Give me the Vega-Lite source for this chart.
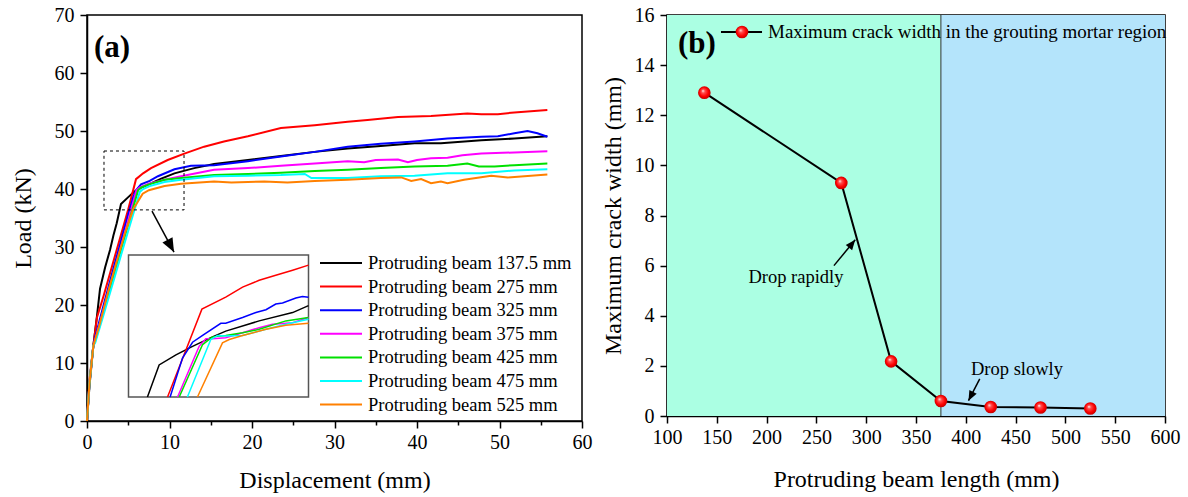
{
  "$schema": "https://vega.github.io/schema/vega-lite/v6.json",
  "background": "white",
  "padding": {"left": 10, "top": 4, "right": 4, "bottom": 5},
  "spacing": 7,
  "config": {
    "font": "Liberation Serif",
    "view": {"stroke": "black", "strokeWidth": 1.5},
    "axis": {"labelFont": "Liberation Serif", "labelFontSize": 20, "titleFont": "Liberation Serif", "titleFontSize": 24, "titleFontWeight": "normal", "labelColor": "black", "titleColor": "black", "tickColor": "black", "domainColor": "black", "grid": false, "tickWidth": 1.5, "domainWidth": 1.5, "labelFlush": false, "labelOverlap": false},
    "legend": {"labelFont": "Liberation Serif", "labelColor": "black"},
    "text": {"font": "Liberation Serif"}
  },
  "datasets": {
    "curves": [
      {"beam":137.5,"disp":0,"load":0},{"beam":137.5,"disp":0.3,"load":6},{"beam":137.5,"disp":0.77,"load":13},{"beam":137.5,"disp":1.2,"load":18},{"beam":137.5,"disp":1.58,"load":22.8},{"beam":137.5,"disp":2.2,"load":26.5},{"beam":137.5,"disp":2.79,"load":29.5},{"beam":137.5,"disp":3.2,"load":32},{"beam":137.5,"disp":3.6,"load":34.1},{"beam":137.5,"disp":4.12,"load":37.4},{"beam":137.5,"disp":5.0,"load":38.6},{"beam":137.5,"disp":5.7,"load":39.5},{"beam":137.5,"disp":6.5,"load":40.2},{"beam":137.5,"disp":7.35,"load":40.7},{"beam":137.5,"disp":9.0,"load":41.8},{"beam":137.5,"disp":10.6,"load":42.7},{"beam":137.5,"disp":13.0,"load":43.6},{"beam":137.5,"disp":15.4,"load":44.3},{"beam":137.5,"disp":19.5,"load":45.0},{"beam":137.5,"disp":23.5,"load":45.7},{"beam":137.5,"disp":27.6,"load":46.4},{"beam":137.5,"disp":31.6,"load":47.0},{"beam":137.5,"disp":35.6,"load":47.4},{"beam":137.5,"disp":39.7,"load":47.9},{"beam":137.5,"disp":42.9,"load":47.9},{"beam":137.5,"disp":47.8,"load":48.4},{"beam":137.5,"disp":51.8,"load":48.7},{"beam":137.5,"disp":55.8,"load":49.1},
      {"beam":275,"disp":0,"load":0},{"beam":275,"disp":0.3,"load":7},{"beam":275,"disp":0.77,"load":13},{"beam":275,"disp":1.2,"load":17.8},{"beam":275,"disp":2.0,"load":21.5},{"beam":275,"disp":3.0,"load":26.5},{"beam":275,"disp":4.0,"load":31.5},{"beam":275,"disp":5.0,"load":36.5},{"beam":275,"disp":5.94,"load":41.7},{"beam":275,"disp":6.8,"load":42.7},{"beam":275,"disp":7.76,"load":43.6},{"beam":275,"disp":9.78,"load":45.0},{"beam":275,"disp":11.8,"load":46.1},{"beam":275,"disp":14.2,"load":47.3},{"beam":275,"disp":16.6,"load":48.2},{"beam":275,"disp":19.5,"load":49.1},{"beam":275,"disp":23.5,"load":50.5},{"beam":275,"disp":27.6,"load":51.0},{"beam":275,"disp":31.6,"load":51.6},{"beam":275,"disp":34.0,"load":51.9},{"beam":275,"disp":37.7,"load":52.4},{"beam":275,"disp":41.7,"load":52.6},{"beam":275,"disp":46.1,"load":53.0},{"beam":275,"disp":47.8,"load":52.9},{"beam":275,"disp":49.8,"load":52.9},{"beam":275,"disp":51.8,"load":53.2},{"beam":275,"disp":55.8,"load":53.6},
      {"beam":325,"disp":0,"load":0},{"beam":325,"disp":0.3,"load":6.5},{"beam":325,"disp":0.77,"load":13},{"beam":325,"disp":1.0,"load":14.5},{"beam":325,"disp":2.0,"load":19.9},{"beam":325,"disp":3.0,"load":25.2},{"beam":325,"disp":4.0,"load":30.4},{"beam":325,"disp":5.0,"load":35.7},{"beam":325,"disp":5.6,"load":38.6},{"beam":325,"disp":5.94,"load":39.8},{"beam":325,"disp":6.55,"load":40.8},{"beam":325,"disp":7.6,"load":41.4},{"beam":325,"disp":8.6,"load":42.2},{"beam":325,"disp":10.6,"load":43.4},{"beam":325,"disp":12.6,"load":44.0},{"beam":325,"disp":15.4,"load":44.1},{"beam":325,"disp":19.5,"load":44.8},{"beam":325,"disp":23.5,"load":45.6},{"beam":325,"disp":27.6,"load":46.4},{"beam":325,"disp":31.6,"load":47.3},{"beam":325,"disp":35.6,"load":47.8},{"beam":325,"disp":39.7,"load":48.2},{"beam":325,"disp":43.7,"load":48.7},{"beam":325,"disp":47.8,"load":49.0},{"beam":325,"disp":49.8,"load":49.1},{"beam":325,"disp":51.8,"load":49.6},{"beam":325,"disp":53.4,"load":50.0},{"beam":325,"disp":54.6,"load":49.6},{"beam":325,"disp":55.8,"load":49.0},
      {"beam":375,"disp":0,"load":0},{"beam":375,"disp":0.3,"load":6.5},{"beam":375,"disp":0.77,"load":13},{"beam":375,"disp":1.0,"load":14},{"beam":375,"disp":2.0,"load":19.1},{"beam":375,"disp":3.0,"load":24.3},{"beam":375,"disp":4.0,"load":29.4},{"beam":375,"disp":5.0,"load":34.6},{"beam":375,"disp":6.0,"load":39.8},{"beam":375,"disp":6.4,"load":40.3},{"beam":375,"disp":7.5,"load":40.9},{"beam":375,"disp":9.4,"load":41.6},{"beam":375,"disp":11.4,"load":42.2},{"beam":375,"disp":15.4,"load":43.3},{"beam":375,"disp":19.5,"load":43.6},{"beam":375,"disp":23.5,"load":44.0},{"beam":375,"disp":27.6,"load":44.4},{"beam":375,"disp":31.6,"load":44.8},{"beam":375,"disp":33.6,"load":44.6},{"beam":375,"disp":35.0,"load":45.0},{"beam":375,"disp":37.7,"load":45.1},{"beam":375,"disp":38.9,"load":44.6},{"beam":375,"disp":40.0,"load":45.0},{"beam":375,"disp":41.7,"load":45.3},{"beam":375,"disp":43.7,"load":45.4},{"beam":375,"disp":45.5,"load":45.8},{"beam":375,"disp":47.8,"load":46.1},{"beam":375,"disp":51.8,"load":46.3},{"beam":375,"disp":55.8,"load":46.5},
      {"beam":425,"disp":0,"load":0},{"beam":425,"disp":0.3,"load":6.5},{"beam":425,"disp":0.77,"load":13},{"beam":425,"disp":1.0,"load":13.8},{"beam":425,"disp":2.0,"load":18.8},{"beam":425,"disp":3.0,"load":23.8},{"beam":425,"disp":4.0,"load":28.9},{"beam":425,"disp":5.0,"load":33.9},{"beam":425,"disp":6.2,"load":39.8},{"beam":425,"disp":6.6,"load":40.3},{"beam":425,"disp":7.5,"load":40.8},{"beam":425,"disp":9.4,"load":41.6},{"beam":425,"disp":11.4,"load":41.9},{"beam":425,"disp":15.4,"load":42.4},{"beam":425,"disp":19.5,"load":42.6},{"beam":425,"disp":23.5,"load":42.8},{"beam":425,"disp":27.6,"load":43.1},{"beam":425,"disp":31.6,"load":43.3},{"beam":425,"disp":35.6,"load":43.6},{"beam":425,"disp":39.7,"load":43.9},{"beam":425,"disp":43.7,"load":44.0},{"beam":425,"disp":46.1,"load":44.4},{"beam":425,"disp":47.5,"load":43.9},{"beam":425,"disp":49.4,"load":43.9},{"beam":425,"disp":51.8,"load":44.1},{"beam":425,"disp":55.8,"load":44.4},
      {"beam":475,"disp":0,"load":0},{"beam":475,"disp":0.3,"load":6.5},{"beam":475,"disp":0.77,"load":13},{"beam":475,"disp":1.0,"load":13.5},{"beam":475,"disp":2.0,"load":18.3},{"beam":475,"disp":3.0,"load":23.1},{"beam":475,"disp":4.0,"load":28.0},{"beam":475,"disp":5.0,"load":32.8},{"beam":475,"disp":6.4,"load":39.5},{"beam":475,"disp":6.8,"load":40.0},{"beam":475,"disp":7.6,"load":40.5},{"beam":475,"disp":9.4,"load":41.2},{"beam":475,"disp":11.4,"load":41.6},{"beam":475,"disp":15.4,"load":42.2},{"beam":475,"disp":19.5,"load":42.3},{"beam":475,"disp":23.5,"load":42.4},{"beam":475,"disp":26.4,"load":42.6},{"beam":475,"disp":27.2,"load":41.9},{"beam":475,"disp":31.6,"load":41.9},{"beam":475,"disp":35.6,"load":42.2},{"beam":475,"disp":39.7,"load":42.3},{"beam":475,"disp":43.7,"load":42.7},{"beam":475,"disp":47.8,"load":42.7},{"beam":475,"disp":51.8,"load":43.2},{"beam":475,"disp":55.8,"load":43.4},
      {"beam":525,"disp":0,"load":0},{"beam":525,"disp":0.3,"load":6.5},{"beam":525,"disp":0.77,"load":13},{"beam":525,"disp":1.5,"load":16.5},{"beam":525,"disp":2.6,"load":22.5},{"beam":525,"disp":3.6,"load":27.5},{"beam":525,"disp":4.6,"load":32.4},{"beam":525,"disp":5.6,"load":36.5},{"beam":525,"disp":6.75,"load":39.2},{"beam":525,"disp":7.5,"load":39.8},{"beam":525,"disp":9.4,"load":40.5},{"beam":525,"disp":11.4,"load":40.9},{"beam":525,"disp":15.4,"load":41.3},{"beam":525,"disp":17.5,"load":41.1},{"beam":525,"disp":21.5,"load":41.3},{"beam":525,"disp":24.3,"load":41.1},{"beam":525,"disp":27.6,"load":41.4},{"beam":525,"disp":31.6,"load":41.6},{"beam":525,"disp":35.6,"load":41.9},{"beam":525,"disp":38.1,"load":42.0},{"beam":525,"disp":39.3,"load":41.4},{"beam":525,"disp":40.5,"load":41.7},{"beam":525,"disp":41.7,"load":41.0},{"beam":525,"disp":42.9,"load":41.3},{"beam":525,"disp":43.7,"load":41.0},{"beam":525,"disp":45.7,"load":41.6},{"beam":525,"disp":49.0,"load":42.3},{"beam":525,"disp":51.0,"load":42.0},{"beam":525,"disp":55.8,"load":42.5}
    ],
    "inset": [
      {"beam":137.5,"disp":3.61,"load":34.9},{"beam":137.5,"disp":4.11,"load":37.41},{"beam":137.5,"disp":4.83,"load":38.2},{"beam":137.5,"disp":5.54,"load":38.86},{"beam":137.5,"disp":6.39,"load":39.6},{"beam":137.5,"disp":6.96,"load":40.05},{"beam":137.5,"disp":8.39,"load":40.85},{"beam":137.5,"disp":9.82,"load":41.5},{"beam":137.5,"disp":10.5,"load":42.04},
      {"beam":275,"disp":4.47,"load":34.9},{"beam":275,"disp":5.94,"load":41.77},{"beam":275,"disp":6.96,"load":42.7},{"beam":275,"disp":7.68,"load":43.49},{"beam":275,"disp":8.39,"load":44.02},{"beam":275,"disp":9.1,"load":44.41},{"beam":275,"disp":9.82,"load":44.81},{"beam":275,"disp":10.5,"load":45.21},
      {"beam":325,"disp":4.58,"load":34.9},{"beam":325,"disp":5.11,"load":37.94},{"beam":325,"disp":5.54,"load":39.18},{"beam":325,"disp":5.97,"load":39.71},{"beam":325,"disp":6.75,"load":40.66},{"beam":325,"disp":6.96,"load":40.66},{"beam":325,"disp":7.68,"load":41.11},{"beam":325,"disp":8.25,"load":41.5},{"beam":325,"disp":8.68,"load":41.72},{"beam":325,"disp":9.1,"load":42.17},{"beam":325,"disp":9.39,"load":42.25},{"beam":325,"disp":9.96,"load":42.64},{"beam":325,"disp":10.24,"load":42.75},{"beam":325,"disp":10.5,"load":42.7},
      {"beam":375,"disp":4.9,"load":34.9},{"beam":375,"disp":5.82,"load":38.86},{"beam":375,"disp":6.11,"load":39.45},{"beam":375,"disp":6.39,"load":39.45},{"beam":375,"disp":6.96,"load":39.53},{"beam":375,"disp":7.68,"load":39.92},{"beam":375,"disp":8.39,"load":40.32},{"beam":375,"disp":8.96,"load":40.58},{"beam":375,"disp":9.82,"load":40.71},{"beam":375,"disp":10.5,"load":41.11},
      {"beam":425,"disp":4.97,"load":34.9},{"beam":425,"disp":5.97,"load":39.0},{"beam":425,"disp":6.39,"load":39.6},{"beam":425,"disp":6.96,"load":39.71},{"beam":425,"disp":7.68,"load":39.92},{"beam":425,"disp":8.39,"load":40.19},{"beam":425,"disp":9.53,"load":40.85},{"beam":425,"disp":10.5,"load":41.11},
      {"beam":475,"disp":5.32,"load":34.9},{"beam":475,"disp":6.32,"load":39.39},{"beam":475,"disp":6.61,"load":39.71},{"beam":475,"disp":6.96,"load":39.66},{"beam":475,"disp":7.68,"load":39.71},{"beam":475,"disp":8.68,"load":40.19},{"beam":475,"disp":9.53,"load":40.58},{"beam":475,"disp":10.5,"load":40.98},
      {"beam":525,"disp":5.75,"load":34.9},{"beam":525,"disp":6.82,"load":39.13},{"beam":525,"disp":7.11,"load":39.39},{"beam":525,"disp":7.68,"load":39.71},{"beam":525,"disp":8.68,"load":40.19},{"beam":525,"disp":9.53,"load":40.5},{"beam":525,"disp":10.5,"load":40.66}
    ],
    "crack": [
      {"len":137.5,"width":12.9},{"len":275,"width":9.3},{"len":325,"width":2.18},{"len":375,"width":0.6},{"len":425,"width":0.36},{"len":475,"width":0.34},{"len":525,"width":0.3}
    ]
  },
  "hconcat": [
    {
      "width": 495,
      "height": 406,
      "layer": [
        {
          "layer": [
            {
              "data": {"name": "curves"},
              "mark": {"type": "line", "strokeWidth": 2},
              "encoding": {
                "x": {"field": "disp", "type": "quantitative", "scale": {"domain": [0, 60], "nice": false, "zero": false},
                      "axis": {"title": "Displacement (mm)", "labelFont": "Liberation Serif", "titleFont": "Liberation Serif", "values": [0,5,10,15,20,25,30,35,40,45,50,55,60], "labelExpr": "datum.value % 10 === 0 ? datum.label : ''", "tickSize": {"condition": {"test": "datum.value % 10 === 0", "value": 7}, "value": 4}, "labelPadding": 4, "titlePadding": 16}},
                "y": {"field": "load", "type": "quantitative", "scale": {"domain": [0, 70], "nice": false},
                      "axis": {"title": "Load (kN)", "labelFont": "Liberation Serif", "titleFont": "Liberation Serif", "values": [0,5,10,15,20,25,30,35,40,45,50,55,60,65,70], "labelExpr": "datum.value % 10 === 0 ? datum.label : ''", "tickSize": {"condition": {"test": "datum.value % 10 === 0", "value": 7}, "value": 4}, "labelPadding": 6, "titlePadding": 19}},
                "color": {"field": "beam", "type": "nominal",
                          "scale": {"domain": [137.5, 275, 325, 375, 425, 475, 525], "range": ["#000000", "#ff0000", "#0000ff", "#ff00ff", "#00e000", "#00ffff", "#ff8000"]},
                          "legend": {"orient": "none", "legendX": 243, "legendY": 237, "title": null, "symbolType": "M-2.1,0H2.1", "symbolSize": 400, "symbolStrokeWidth": 2, "labelFont": "Liberation Serif", "labelFontSize": 18.5, "labelLimit": 0, "labelOffset": 16, "rowPadding": 2.6, "labelExpr": "'Protruding beam ' + datum.label + ' mm'"}}
              }
            },
            {
              "data": {"values": [{}]},
              "mark": {"type": "rect", "fill": null, "stroke": "black", "strokeWidth": 1, "strokeDash": [3, 3]},
              "encoding": {"x": {"datum": 2.06, "type": "quantitative"}, "x2": {"datum": 11.76}, "y": {"datum": 36.4, "type": "quantitative"}, "y2": {"datum": 46.55}}
            },
            {
              "data": {"values": [{}]},
              "mark": {"type": "rule", "stroke": "black", "strokeWidth": 1.5},
              "encoding": {"x": {"datum": 7.88, "type": "quantitative"}, "x2": {"datum": 10.55}, "y": {"datum": 36.2, "type": "quantitative"}, "y2": {"datum": 29.1}}
            },
            {
              "data": {"values": [{}]},
              "mark": {"type": "point", "shape": "M0,0L-0.45,-1.1L0.45,-1.1Z", "filled": true, "fill": "black", "opacity": 1, "size": 645, "angle": 332},
              "encoding": {"x": {"datum": 10.55, "type": "quantitative"}, "y": {"datum": 29.1, "type": "quantitative"}}
            },
            {
              "data": {"values": [{}]},
              "mark": {"type": "text", "text": "(a)", "font": "Liberation Serif", "fontSize": 31, "fontWeight": "bold", "align": "left", "baseline": "alphabetic", "color": "black"},
              "encoding": {"x": {"datum": 0.85, "type": "quantitative"}, "y": {"datum": 62.8, "type": "quantitative"}}
            }
          ]
        },
        {
          "layer": [
            {
              "data": {"values": [{}]},
              "mark": {"type": "rect", "fill": "white", "stroke": "#555555", "strokeWidth": 1.5},
              "encoding": {
                "x": {"datum": 2.8, "type": "quantitative", "scale": {"domain": [2.8, 10.5], "range": [41.5, 221.5], "nice": false, "zero": false}, "axis": null},
                "x2": {"datum": 10.5},
                "y": {"datum": 34.9, "type": "quantitative", "scale": {"domain": [34.9, 46.0], "range": [382, 240], "nice": false, "zero": false}, "axis": null},
                "y2": {"datum": 46.0}
              }
            },
            {
              "data": {"name": "inset"},
              "mark": {"type": "line", "strokeWidth": 1.5},
              "encoding": {
                "x": {"field": "disp", "type": "quantitative"},
                "y": {"field": "load", "type": "quantitative"},
                "color": {"field": "beam", "type": "nominal"}
              }
            }
          ]
        }
      ],
      "resolve": {"scale": {"x": "independent", "y": "independent"}}
    },
    {
      "width": 498,
      "height": 401,
      "layer": [
        {
          "data": {"values": [{}]},
          "mark": {"type": "rect", "color": "#abffe3", "opacity": 1},
          "encoding": {
            "x": {"datum": 100, "type": "quantitative", "scale": {"domain": [100, 600], "nice": false, "zero": false},
                  "axis": {"title": "Protruding beam length (mm)", "labelFont": "Liberation Serif", "titleFont": "Liberation Serif", "values": [100,125,150,175,200,225,250,275,300,325,350,375,400,425,450,475,500,525,550,575,600], "labelExpr": "datum.value % 50 === 0 ? datum.label : ''", "tickSize": {"condition": {"test": "datum.value % 50 === 0", "value": 7}, "value": 4}, "labelPadding": 4, "titlePadding": 20}},
            "x2": {"datum": 375},
            "y": {"datum": 0, "type": "quantitative", "scale": {"domain": [0, 16], "nice": false},
                  "axis": {"title": "Maximum crack width (mm)", "labelFont": "Liberation Serif", "titleFont": "Liberation Serif", "values": [0,1,2,3,4,5,6,7,8,9,10,11,12,13,14,15,16], "labelExpr": "datum.value % 2 === 0 ? datum.label : ''", "tickSize": {"condition": {"test": "datum.value % 2 === 0", "value": 7}, "value": 4}, "labelPadding": 6, "titlePadding": 9}},
            "y2": {"datum": 16}
          }
        },
        {
          "data": {"values": [{}]},
          "mark": {"type": "rect", "color": "#b4e4fb", "opacity": 1},
          "encoding": {"x": {"datum": 375, "type": "quantitative"}, "x2": {"datum": 600}, "y": {"datum": 0, "type": "quantitative"}, "y2": {"datum": 16}}
        },
        {
          "data": {"values": [{}]},
          "mark": {"type": "rule", "stroke": "#333333", "strokeWidth": 1},
          "encoding": {"x": {"datum": 375, "type": "quantitative"}, "y": {"datum": 0, "type": "quantitative"}, "y2": {"datum": 16}}
        },
        {
          "data": {"name": "crack"},
          "mark": {"type": "line", "stroke": "black", "strokeWidth": 2},
          "encoding": {"x": {"field": "len", "type": "quantitative"}, "y": {"field": "width", "type": "quantitative"}}
        },
        {
          "data": {"name": "crack"},
          "mark": {"type": "point", "filled": true, "size": 160, "opacity": 1, "strokeWidth": 0,
                   "fill": {"gradient": "radial", "x1": 0.38, "y1": 0.35, "r1": 0, "x2": 0.5, "y2": 0.5, "r2": 0.55, "stops": [{"offset": 0, "color": "#ffffff"}, {"offset": 0.25, "color": "#ff5050"}, {"offset": 0.65, "color": "#ff0000"}, {"offset": 1, "color": "#b00000"}]}},
          "encoding": {"x": {"field": "len", "type": "quantitative"}, "y": {"field": "width", "type": "quantitative"}}
        },
        {
          "data": {"values": [{}]},
          "mark": {"type": "rule", "stroke": "black", "strokeWidth": 2},
          "encoding": {"x": {"datum": 154.2, "type": "quantitative"}, "x2": {"datum": 195.4}, "y": {"datum": 15.32, "type": "quantitative"}}
        },
        {
          "data": {"values": [{}]},
          "mark": {"type": "point", "filled": true, "size": 160, "opacity": 1, "strokeWidth": 0,
                   "fill": {"gradient": "radial", "x1": 0.38, "y1": 0.35, "r1": 0, "x2": 0.5, "y2": 0.5, "r2": 0.55, "stops": [{"offset": 0, "color": "#ffffff"}, {"offset": 0.25, "color": "#ff5050"}, {"offset": 0.65, "color": "#ff0000"}, {"offset": 1, "color": "#b00000"}]}},
          "encoding": {"x": {"datum": 175.3, "type": "quantitative"}, "y": {"datum": 15.32, "type": "quantitative"}}
        },
        {
          "data": {"values": [{}]},
          "mark": {"type": "text", "text": "Maximum crack width in the grouting mortar region", "font": "Liberation Serif", "fontSize": 19, "align": "left", "baseline": "middle", "color": "black"},
          "encoding": {"x": {"datum": 201.4, "type": "quantitative"}, "y": {"datum": 15.32, "type": "quantitative"}}
        },
        {
          "data": {"values": [{}]},
          "mark": {"type": "text", "text": "(b)", "font": "Liberation Serif", "fontSize": 31, "fontWeight": "bold", "align": "left", "baseline": "alphabetic", "color": "black"},
          "encoding": {"x": {"datum": 111, "type": "quantitative"}, "y": {"datum": 14.5, "type": "quantitative"}}
        },
        {
          "data": {"values": [{}]},
          "mark": {"type": "text", "text": "Drop rapidly", "font": "Liberation Serif", "fontSize": 18.5, "align": "center", "baseline": "middle", "color": "black"},
          "encoding": {"x": {"datum": 229.5, "type": "quantitative"}, "y": {"datum": 5.55, "type": "quantitative"}}
        },
        {
          "data": {"values": [{}]},
          "mark": {"type": "text", "text": "Drop slowly", "font": "Liberation Serif", "fontSize": 18.5, "align": "center", "baseline": "middle", "color": "black"},
          "encoding": {"x": {"datum": 451.4, "type": "quantitative"}, "y": {"datum": 1.875, "type": "quantitative"}}
        },
        {
          "data": {"values": [{}]},
          "mark": {"type": "rule", "stroke": "black", "strokeWidth": 1.5},
          "encoding": {"x": {"datum": 267.6, "type": "quantitative"}, "x2": {"datum": 289}, "y": {"datum": 6.0, "type": "quantitative"}, "y2": {"datum": 7.03}}
        },
        {
          "data": {"values": [{}]},
          "mark": {"type": "point", "shape": "M0,0L-0.45,-1.1L0.45,-1.1Z", "filled": true, "fill": "black", "opacity": 1, "size": 330, "angle": 219},
          "encoding": {"x": {"datum": 289, "type": "quantitative"}, "y": {"datum": 7.03, "type": "quantitative"}}
        },
        {
          "data": {"values": [{}]},
          "mark": {"type": "rule", "stroke": "black", "strokeWidth": 1.5},
          "encoding": {"x": {"datum": 414, "type": "quantitative"}, "x2": {"datum": 402.7}, "y": {"datum": 1.48, "type": "quantitative"}, "y2": {"datum": 0.61}}
        },
        {
          "data": {"values": [{}]},
          "mark": {"type": "point", "shape": "M0,0L-0.45,-1.1L0.45,-1.1Z", "filled": true, "fill": "black", "opacity": 1, "size": 330, "angle": 27},
          "encoding": {"x": {"datum": 402.7, "type": "quantitative"}, "y": {"datum": 0.61, "type": "quantitative"}}
        }
      ]
    }
  ]
}
